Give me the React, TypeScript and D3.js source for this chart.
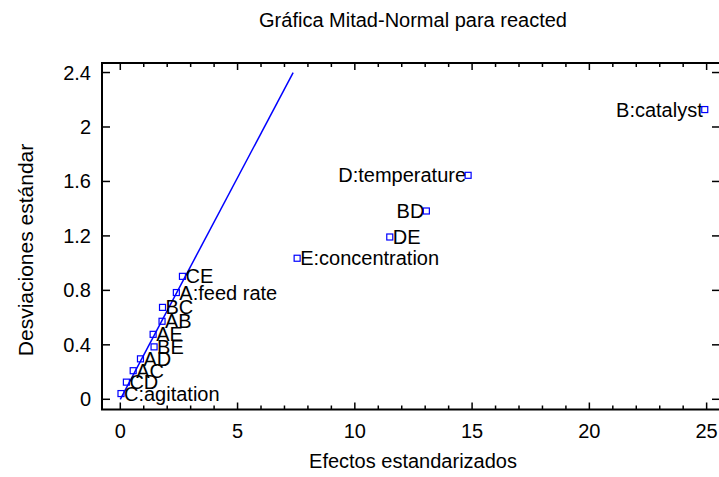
import React from "react";
import * as d3 from "d3";

const effectLabels = ["C:agitation", "CD", "AC", "AD", "BE", "AE", "AB", "BC", "A:feed rate", "CE", "E:concentration", "DE", "BD", "D:temperature", "B:catalyst"];
const effectValues = [0.03, 0.26, 0.55, 0.86, 1.44, 1.4, 1.78, 1.8, 2.39, 2.65, 7.54, 11.49, 13.05, 14.83, 24.92];
const halfNormalQuantiles = [0.042, 0.126, 0.21, 0.297, 0.385, 0.477, 0.573, 0.675, 0.784, 0.903, 1.036, 1.192, 1.383, 1.645, 2.128];
const labelSides = ["right", "right", "right", "right", "right", "right", "right", "right", "right", "right", "right", "right", "left", "left", "left"];
const refLineX = [0, 7.37];
const refLineY = [0, 2.4];
const xTicks = [0, 5, 10, 15, 20, 25];
const xMinorTicks = d3.range(0, 26, 1);
const yTicks = [0, 0.4, 0.8, 1.2, 1.6, 2.0, 2.4];
const yTickLabels = ["0", "0.4", "0.8", "1.2", "1.6", "2", "2.4"];

const W = 719, H = 477;
const L = 102, R = 720, T = 63, B = 409.5;
const FONT = "'Liberation Sans', Arial, sans-serif";
const FS = 20;

export default function App() {
  const x = d3.scaleLinear().domain([-0.78, 25.57]).range([L, R]);
  const y = d3.scaleLinear().domain([-0.075, 2.47]).range([B, T]);
  const line = d3.line<number>().x((d, i) => x(refLineX[i])).y((d, i) => y(refLineY[i]));
  const blue = "#0000ff";
  return (
    <svg width={W} height={H} style={{ position: "absolute", left: 0, top: 0, background: "#fff" }} fontFamily={FONT}>
      <rect width={W} height={H} fill="#fff" />
      <text x={413} y={27} fontSize={FS} textAnchor="middle" fill="#000">Gráfica Mitad-Normal para reacted</text>
      <rect x={L} y={T} width={R - L} height={B - T} fill="none" stroke="#000" strokeWidth={2} />
      {xMinorTicks.map((t) => {
        const major = t % 5 === 0;
        const len = major ? 7 : 4;
        return (
          <g key={"xm" + t}>
            <line x1={x(t)} x2={x(t)} y1={B} y2={B - len} stroke="#000" strokeWidth={1.5} />
            <line x1={x(t)} x2={x(t)} y1={T} y2={T + len} stroke="#000" strokeWidth={1.5} />
          </g>
        );
      })}
      {xTicks.map((t) => (
        <text key={"xl" + t} x={x(t)} y={438} fontSize={FS} textAnchor="middle" fill="#000">{t}</text>
      ))}
      {yTicks.map((t, i) => (
        <g key={"y" + t}>
          <line x1={L} x2={L + 8} y1={y(t)} y2={y(t)} stroke="#000" strokeWidth={1.5} />
          <line x1={R} x2={R - 8} y1={y(t)} y2={y(t)} stroke="#000" strokeWidth={1.5} />
          <text x={91} y={y(t) + 7} fontSize={FS} textAnchor="end" fill="#000">{yTickLabels[i]}</text>
        </g>
      ))}
      <text x={413} y={468} fontSize={FS} textAnchor="middle" fill="#000">Efectos estandarizados</text>
      <text transform={`translate(33,250) rotate(-90)`} fontSize={21} textAnchor="middle" fill="#000">Desviaciones estándar</text>
      <path d={line(refLineX) || ""} fill="none" stroke={blue} strokeWidth={1.5} />
      {effectValues.map((v, i) => {
        const cx = x(v), cy = y(halfNormalQuantiles[i]);
        const right = labelSides[i] === "right";
        return (
          <g key={effectLabels[i]}>
            <text x={right ? cx + 3 : cx - 2} y={cy + 7} fontSize={FS} textAnchor={right ? "start" : "end"} fill="#000">{effectLabels[i]}</text>
            <rect x={cx - 3} y={cy - 3} width={6} height={6} fill="none" stroke={blue} strokeWidth={1.2} />
          </g>
        );
      })}
    </svg>
  );
}
